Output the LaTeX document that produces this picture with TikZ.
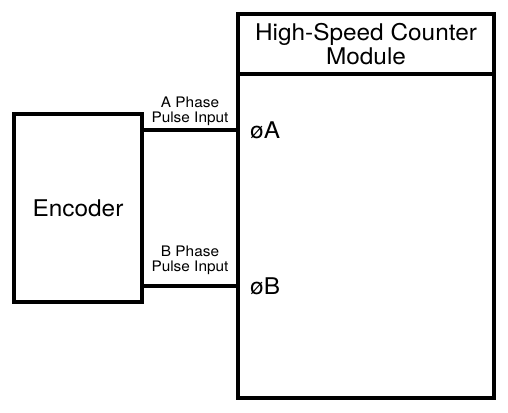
\documentclass[tikz,border=0pt]{standalone}
\usepackage{fontspec}
\setmainfont{TeX Gyre Heros}[FakeStretch=1.06]
\usetikzlibrary{positioning,calc}

\begin{document}
\begin{tikzpicture}[x=1pt, y=-1pt,
  box/.style={draw=black, line width=4pt, rectangle, inner sep=0pt},
  wire/.style={draw=black, line width=4pt},
  bigtxt/.style={font=\fontsize{23}{24.5}\selectfont, align=center},
  lbl/.style={font=\fontsize{14.5}{15}\selectfont, align=center, inner sep=2pt}]
\useasboundingbox (0,0) rectangle (508,412);
\node[box, bigtxt, minimum width=128pt, minimum height=188pt] (enc) at (78,208) {Encoder};
\node[box, minimum width=256pt, minimum height=384pt] (hsc) at (366,206) {};
\node[box, bigtxt, minimum width=256pt, minimum height=60pt, anchor=north] (head) at (hsc.north) {High-Speed Counter\\[-1pt]Module};
\node[bigtxt, anchor=west, inner sep=0pt] (pa) at (250,130) {øA};
\node[bigtxt, anchor=west, inner sep=0pt] (pb) at (250,286) {øB};
\draw[wire] (enc.east |- pa) -- node[lbl, above] {A Phase\\Pulse Input} (hsc.west |- pa);
\draw[wire] (enc.east |- pb) -- node[lbl, above=7pt] {B Phase\\Pulse Input} (hsc.west |- pb);
\end{tikzpicture}
\end{document}
